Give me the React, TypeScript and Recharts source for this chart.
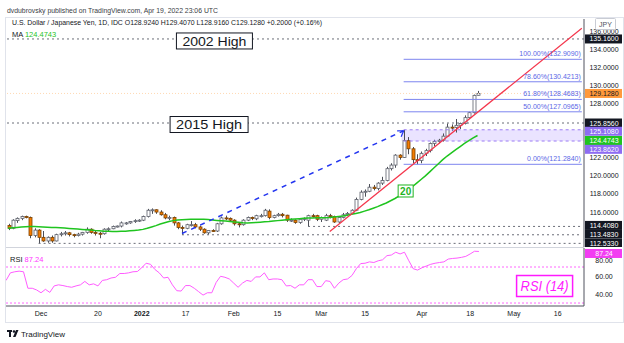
import React from "react";
import {
  ComposedChart,
  Bar,
  Line,
  XAxis,
  YAxis,
  ReferenceLine,
  ReferenceArea,
  ReferenceDot,
} from "recharts";

const FONT = "'Liberation Sans', Arial, sans-serif";

// daily bars (IDC), then empty slots out to the right edge of the chart
const NOV_21 = [19, 22, 23, 24, 25, 26, 29, 30];
const DEC_21 = [1, 2, 3, 6, 7, 8, 9, 10, 13, 14, 15, 16, 17, 20, 21, 22, 23, 24, 27, 28, 29, 30, 31];
const JAN_22 = [3, 4, 5, 6, 7, 10, 11, 12, 13, 14, 17, 18, 19, 20, 21, 24, 25, 26, 27, 28, 31];
const FEB_22 = [1, 2, 3, 4, 7, 8, 9, 10, 11, 14, 15, 16, 17, 18, 21, 22, 23, 24, 25, 28];
const MAR_22 = [1, 2, 3, 4, 7, 8, 9, 10, 11, 14, 15, 16, 17, 18, 21, 22, 23, 24, 25, 28, 29, 30, 31];
const APR_22 = [1, 4, 5, 6, 7, 8, 11, 12, 13, 14, 15, 18, 19, 20, 21, 22, 25, 26, 27, 28, 29];
const MAY_22 = [2, 3, 4, 5, 6, 9, 10, 11, 12, 13, 16, 17, 18, 19, 20, 23, 24];

const pad = (d: number) => (d < 10 ? "0" + d : "" + d);
const DATES = [
  ...NOV_21.map((d) => `2021-11-${pad(d)}`),
  ...DEC_21.map((d) => `2021-12-${pad(d)}`),
  ...JAN_22.map((d) => `2022-01-${pad(d)}`),
  ...FEB_22.map((d) => `2022-02-${pad(d)}`),
  ...MAR_22.map((d) => `2022-03-${pad(d)}`),
  ...APR_22.map((d) => `2022-04-${pad(d)}`),
  ...MAY_22.map((d) => `2022-05-${pad(d)}`),
];

const TIME_TICKS: Record<string, string> = {
  "2021-12-01": "Dec",
  "2021-12-20": "20",
  "2022-01-03": "2022",
  "2022-01-17": "17",
  "2022-02-01": "Feb",
  "2022-02-15": "15",
  "2022-03-01": "Mar",
  "2022-03-15": "15",
  "2022-04-01": "Apr",
  "2022-04-18": "18",
  "2022-05-02": "May",
  "2022-05-16": "16",
};

// OHLC, Nov 19 2021 .. Apr 20 2022
const OPEN = [
  114.5, 114.2, 115.05, 115.3, 115.5, 115.4, 113.4, 114.0, 113.2, 112.8,
  113.2, 112.8, 113.5, 113.6, 113.7, 113.5, 113.4, 113.55, 113.75, 114.1,
  113.75, 113.65, 113.6, 114.1, 114.15, 114.4, 114.45, 114.8, 114.8, 114.95,
  115.05, 115.1, 115.5, 116.2, 116.25, 116.0, 115.7, 115.35, 115.4, 114.8,
  114.3, 114.2, 114.6, 114.6, 114.35, 114.1, 113.7, 113.95, 113.9, 114.7,
  115.35, 115.3, 115.1, 114.7, 114.6, 115.1, 115.4, 115.25, 115.6, 115.6,
  116.1, 115.4, 115.6, 115.75, 115.65, 115.1, 115.1, 114.85, 115.2, 115.1,
  115.6, 115.6, 115.2, 115.1, 115.6, 115.5, 114.9, 115.4, 115.7, 115.85,
  116.2, 117.4, 118.2, 118.3, 118.75, 118.6, 119.2, 119.5, 120.8, 121.2,
  122.3, 122.05, 123.9, 123.0, 121.8, 121.7, 122.5, 122.8, 123.6, 123.8,
  123.95, 124.4, 125.4, 125.35, 125.6, 125.8, 126.45, 127.0, 128.924,
];
const HIGH = [
  114.7, 115.2, 115.4, 115.6, 115.6, 115.5, 114.2, 114.1, 113.9, 113.3,
  113.4, 113.6, 113.8, 113.9, 113.8, 113.6, 113.7, 113.8, 114.3, 114.2,
  113.9, 113.8, 114.2, 114.3, 114.5, 114.5, 114.95, 114.9, 115.0, 115.2,
  115.2, 115.6, 116.35, 116.4, 116.3, 116.2, 115.9, 115.6, 115.5, 114.9,
  114.5, 114.7, 115.0, 114.8, 114.5, 114.2, 114.0, 114.1, 114.8, 115.5,
  115.6, 115.4, 115.2, 114.8, 115.2, 115.5, 115.5, 115.7, 115.8, 116.35,
  116.3, 115.7, 115.9, 115.9, 115.7, 115.3, 115.2, 115.3, 115.4, 115.7,
  115.8, 115.7, 115.5, 115.8, 115.8, 115.6, 115.5, 115.9, 116.0, 116.3,
  117.6, 118.4, 118.5, 119.1, 119.0, 119.3, 119.9, 121.0, 121.4, 122.4,
  122.4, 125.09, 124.3, 123.2, 122.4, 122.7, 123.0, 123.7, 124.0, 124.1,
  124.7, 125.8, 125.7, 126.3, 125.9, 126.7, 127.1, 129.0, 129.407,
];
const LOW = [
  114.0, 114.1, 114.8, 115.1, 115.3, 113.1, 113.2, 112.533, 112.7, 112.6,
  112.6, 112.75, 113.3, 113.4, 113.3, 113.2, 113.3, 113.4, 113.6, 113.6,
  113.4, 113.1, 113.5, 113.9, 114.1, 114.3, 114.3, 114.6, 114.7, 114.8,
  114.9, 115.0, 115.4, 115.8, 115.8, 115.6, 115.2, 115.1, 114.5, 114.1,
  113.483, 114.1, 114.4, 114.2, 113.9, 113.6, 113.5, 113.8, 113.8, 114.6,
  115.1, 114.9, 114.5, 114.3, 114.5, 115.0, 115.1, 115.1, 115.4, 115.5,
  115.2, 115.3, 115.5, 115.4, 114.9, 114.9, 114.7, 114.7, 115.0, 114.408,
  115.4, 115.0, 114.9, 115.0, 115.3, 114.8, 114.8, 115.3, 115.6, 115.8,
  116.1, 117.3, 117.7, 118.2, 118.4, 118.4, 119.0, 119.4, 120.6, 120.9,
  121.8, 122.0, 122.4, 121.4, 121.284, 121.4, 122.2, 122.6, 123.3, 123.6,
  123.8, 124.3, 125.0, 124.8, 125.2, 125.7, 126.3, 126.9, 128.916,
];
const CLOSE = [
  114.2, 115.1, 115.3, 115.5, 115.45, 113.4, 114.0, 113.2, 112.8, 113.2,
  112.8, 113.5, 113.6, 113.7, 113.5, 113.4, 113.55, 113.75, 114.1, 113.75,
  113.65, 113.6, 114.1, 114.15, 114.4, 114.45, 114.8, 114.8, 114.95, 115.05,
  115.1, 115.5, 116.2, 116.25, 116.0, 115.7, 115.35, 115.4, 114.8, 114.3,
  114.2, 114.6, 114.6, 114.35, 114.1, 113.7, 113.95, 113.9, 114.7, 115.35,
  115.3, 115.1, 114.7, 114.6, 115.1, 115.4, 115.3, 115.6, 115.6, 116.2,
  115.4, 115.6, 115.75, 115.6, 115.1, 115.1, 114.85, 115.2, 115.3, 115.6,
  115.55, 115.2, 115.4, 115.6, 115.5, 114.9, 115.4, 115.7, 115.85, 116.2,
  117.4, 118.2, 118.3, 118.75, 118.6, 119.2, 119.5, 120.8, 121.2, 122.3,
  122.05, 123.9, 123.0, 121.8, 121.7, 122.5, 122.8, 123.6, 123.8, 123.95,
  124.4, 125.4, 125.35, 125.6, 125.8, 126.45, 127.0, 128.92, 129.128,
];

// MA (20) as drawn in green
const MA20 = [
  114.2, 114.25, 114.3, 114.35, 114.38, 114.4, 114.4, 114.38, 114.35, 114.33,
  114.3, 114.28, 114.25, 114.22, 114.18, 114.15, 114.12, 114.08, 114.05, 114.0,
  113.95, 113.92, 113.88, 113.86, 113.85, 113.85, 113.86, 113.88, 113.92, 113.96,
  114.0, 114.08, 114.2, 114.35, 114.5, 114.68, 114.82, 114.95, 115.05, 115.12,
  115.15, 115.18, 115.2, 115.21, 115.21, 115.2, 115.17, 115.12, 115.07, 115.03,
  115.0, 114.96, 114.91, 114.86, 114.82, 114.8, 114.82, 114.85, 114.88, 114.92,
  114.95, 115.0, 115.05, 115.1, 115.15, 115.2, 115.24, 115.27, 115.3, 115.33,
  115.35, 115.36, 115.37, 115.38, 115.4, 115.45, 115.5, 115.56, 115.65, 115.75,
  115.85, 115.95, 116.1, 116.25, 116.42, 116.6, 116.8, 117.0, 117.25, 117.5,
  117.8, 118.1, 118.45, 118.8, 119.2, 119.6, 120.0, 120.45, 120.9, 121.35,
  121.8, 122.2, 122.55, 122.9, 123.25, 123.6, 123.9, 124.2, 124.4743,
];

// RSI (14)
const RSI14 = [
  55, 63.5, 64.7, 65.4, 64.7, 46.4, 46.4, 44.5, 41.4, 45.2,
  41.8, 49, 50.2, 49.4, 48.3, 47.5, 49, 50.2, 54, 50.2,
  51.3, 49, 55.1, 55.9, 57.8, 58.6, 62.8, 62.8, 63.5, 64.7,
  65, 69.2, 74.2, 73, 67.3, 63.5, 57.8, 58.6, 50.2, 43.7,
  43.3, 49.4, 49.4, 46.4, 42.6, 38.8, 41.4, 41.4, 52.9, 59.7,
  58.6, 56.7, 52.1, 47.5, 52.1, 55.1, 54, 59, 59, 63.5,
  55.9, 56.7, 56.7, 55.9, 49, 49.4, 46.4, 50.2, 50.2, 55.9,
  55.9, 48.3, 48.3, 54.8, 54, 46.4, 52.1, 55.9, 56.7, 60.5,
  68.1, 73.8, 74.2, 75.7, 75, 76.9, 78, 82.6, 83.3, 86.4,
  84.5, 86.4, 76.9, 68.1, 66.6, 69.2, 71.1, 73, 74.2, 75,
  75.7, 78.8, 79.5, 79.9, 80.7, 81.8, 84.5, 87.5, 87.24,
];

// levels and drawings
const HIGH_2002 = 135.16;
const HIGH_2015 = 125.856;
const LAST_PRICE = 129.128;
const SUPPORTS = [
  { value: 114.408, from: "2022-02-24" },
  { value: 113.483, from: "2022-01-14" },
  { value: 112.533, from: "2021-11-30" },
];
const FIB_LEVELS = [
  { pct: "100.00%", value: 132.909 },
  { pct: "78.60%", value: 130.4213 },
  { pct: "61.80%", value: 128.4683 },
  { pct: "50.00%", value: 127.0965 },
  { pct: "0.00%", value: 121.284 },
];
const FIB_ZONE = [123.862, 125.108];
const FIB_FROM = "2022-03-28";
const RED_TREND = [
  { x: "2022-03-03", y: 113.85 },
  { x: "2022-05-24", y: 136.35 },
];
const BLUE_TREND = [
  { x: "2022-01-14", y: 113.62 },
  { x: "2022-03-28", y: 125.0 },
];
const PRICE_TICKS = [136, 134, 132, 130, 128, 122, 120, 118, 116];
const RSI_TICKS = [80, 60, 40];
const LAST_DATE = DATES[DATES.length - 1];
const MA_LAST = MA20[MA20.length - 1];
const RSI_LAST = RSI14[RSI14.length - 1];

const BADGES = [
  { value: HIGH_2002, bg: "#131722", fg: "#ffffff", shift: 0 },
  { value: LAST_PRICE, bg: "#ff9a3c", fg: "#131722", shift: 0 },
  { value: HIGH_2015, bg: "#131722", fg: "#ffffff", shift: 0 },
  { value: FIB_ZONE[1], bg: "#8d6cf2", fg: "#ffffff", shift: 1.5 },
  { value: MA_LAST, bg: "#1fc41f", fg: "#ffffff", shift: 5 },
  { value: FIB_ZONE[0], bg: "#8d6cf2", fg: "#ffffff", shift: 8.3 },
  { value: SUPPORTS[0].value, bg: "#131722", fg: "#ffffff", shift: -1 },
  { value: SUPPORTS[1].value, bg: "#131722", fg: "#ffffff", shift: -0.6 },
  { value: SUPPORTS[2].value, bg: "#131722", fg: "#ffffff", shift: 0 },
];

const rows = DATES.map((date, i) =>
  i < CLOSE.length
    ? {
        date,
        range: [LOW[i], HIGH[i]],
        open: OPEN[i],
        high: HIGH[i],
        low: LOW[i],
        close: CLOSE[i],
        ma: MA20[i],
        rsi: RSI14[i],
      }
    : { date }
);

function Candle(props: any) {
  const { x, y, width, height, payload } = props;
  if (!payload || payload.close == null || x == null) return null;
  const top = Math.min(y, y + height);
  const h = Math.abs(height);
  const { open, close, high, low } = payload;
  const span = high - low || 1;
  const at = (v: number) => top + ((high - v) / span) * h;
  const cx = Math.round(x + width / 2) + 0.5;
  const up = close >= open;
  const b0 = at(Math.max(open, close));
  const b1 = at(Math.min(open, close));
  return (
    <g>
      <line x1={cx} x2={cx} y1={top} y2={top + h} stroke="#4c4f57" strokeWidth={1} />
      <rect
        x={cx - 1.5}
        y={b0}
        width={3}
        height={Math.max(b1 - b0, 1)}
        fill={up ? "#ffffff" : "#f57c00"}
        stroke={up ? "#5d606b" : "#7a4200"}
        strokeWidth={0.8}
      />
    </g>
  );
}

function PriceTick(props: any) {
  const { x, y, payload } = props;
  const v = payload.value;
  const badge = BADGES.find((b) => b.value === v);
  if (!badge) {
    return (
      <text x={x + 20} y={y + 2.5} textAnchor="middle" fontSize={7} fontFamily={FONT} fill="#131722">
        {v.toFixed(4)}
      </text>
    );
  }
  const cy = y + badge.shift;
  return (
    <g>
      <rect x={x + 1} y={cy - 4.5} width={37} height={9} fill={badge.bg} />
      <text x={x + 20} y={cy + 2.5} textAnchor="middle" fontSize={7} fontFamily={FONT} fill={badge.fg}>
        {v.toFixed(4)}
      </text>
    </g>
  );
}

function RsiTick(props: any) {
  const { x, y, payload } = props;
  const v = payload.value;
  if (v === RSI_LAST) {
    return (
      <g>
        <rect x={x + 1} y={y + 2 - 4.5} width={37} height={9} fill="#f23df2" />
        <text x={x + 20} y={y + 4.5} textAnchor="middle" fontSize={7} fontFamily={FONT} fill="#ffffff">
          {v.toFixed(2)}
        </text>
      </g>
    );
  }
  // the 80 label sits just under the RSI badge, as on the original
  const dy = v === 80 ? 3 : 0;
  return (
    <text x={x + 20} y={y + 2.5 + dy} textAnchor="middle" fontSize={7} fontFamily={FONT} fill="#131722">
      {v.toFixed(2)}
    </text>
  );
}

function TimeTick(props: any) {
  const { x, y, payload } = props;
  const label = TIME_TICKS[payload.value];
  if (!label) return null;
  return (
    <text
      x={x}
      y={y + 9.5}
      textAnchor="middle"
      fontSize={7}
      fontFamily={FONT}
      fontWeight={label === "2022" ? 700 : 400}
      fill="#131722"
    >
      {label}
    </text>
  );
}

const boxedText =
  (
    text: string,
    o: { w: number; h: number; dx: number; dy: number; color: string; size: number; tw?: number; italic?: boolean; bold?: boolean; border?: number }
  ) =>
  (props: any) => {
    const cx = props.cx + o.dx;
    const cy = props.cy + o.dy;
    return (
      <g>
        <rect
          x={cx - o.w / 2}
          y={cy - o.h / 2}
          width={o.w}
          height={o.h}
          fill="#ffffff"
          stroke={o.color}
          strokeWidth={o.border ?? 1}
        />
        <text
          x={cx}
          y={cy + o.size * 0.36}
          textAnchor="middle"
          fontSize={o.size}
          fontFamily={FONT}
          fontStyle={o.italic ? "italic" : "normal"}
          fontWeight={o.bold ? 700 : 400}
          fill={o.color}
          textLength={o.tw}
          lengthAdjust="spacingAndGlyphs"
        >
          {text}
        </text>
      </g>
    );
  };

const fibText = (text: string) => (props: any) =>
  (
    <text x={props.cx - 1} y={props.cy - 3} textAnchor="end" fontSize={7} fontFamily={FONT} fill="#5b67e6">
      {text}
    </text>
  );

const arrowHead = (props: any) => {
  const { cx, cy } = props;
  return (
    <g stroke="#2436f0" strokeWidth={1.2} fill="none">
      <line x1={cx} y1={cy} x2={cx - 6.5} y2={cy + 0.2} />
      <line x1={cx} y1={cy} x2={cx - 2.5} y2={cy + 6} />
    </g>
  );
};

export default function App() {
  return (
    <div style={{ position: "relative", width: 624, height: 343, background: "#ffffff", overflow: "hidden" }}>
      <style>{`body{margin:0}`}</style>

      <div style={{ position: "absolute", left: 0, top: 0 }}>
        <ComposedChart width={624} height={247} data={rows} margin={{ top: 19, right: 0, bottom: 0, left: 6 }}>
          <XAxis dataKey="date" hide />
          <YAxis
            orientation="right"
            width={40}
            type="number"
            domain={[112.13, 137.37]}
            allowDataOverflow
            ticks={[...PRICE_TICKS, ...BADGES.map((b) => b.value)]}
            interval={0}
            tickLine={false}
            tickSize={0}
            tickMargin={0}
            axisLine={{ stroke: "#50535e" }}
            tick={PriceTick}
          />
          <ReferenceArea
            x1={FIB_FROM}
            x2={LAST_DATE}
            y1={FIB_ZONE[0]}
            y2={FIB_ZONE[1]}
            fill="#9575ff"
            fillOpacity={0.2}
            stroke="none"
          />
          {FIB_ZONE.map((v) => (
            <ReferenceLine
              key={"z" + v}
              segment={[
                { x: FIB_FROM, y: v },
                { x: LAST_DATE, y: v },
              ]}
              stroke="#9c7cf5"
              strokeDasharray="3 3"
            />
          ))}
          <ReferenceLine y={LAST_PRICE} stroke="#ffd9b3" strokeDasharray="1 2" />
          <ReferenceLine y={HIGH_2002} stroke="#6b6e78" strokeDasharray="2 3" />
          <ReferenceLine y={HIGH_2015} stroke="#6b6e78" strokeDasharray="2 3" />
          {SUPPORTS.map((s) => (
            <ReferenceLine
              key={"s" + s.value}
              segment={[
                { x: s.from, y: s.value },
                { x: LAST_DATE, y: s.value },
              ]}
              stroke="#6b6e78"
              strokeDasharray="2 3"
            />
          ))}
          {FIB_LEVELS.map((f) => (
            <ReferenceLine
              key={"f" + f.value}
              segment={[
                { x: FIB_FROM, y: f.value },
                { x: LAST_DATE, y: f.value },
              ]}
              stroke="#7d85ef"
              strokeWidth={1}
            />
          ))}
          <Line
            dataKey="ma"
            stroke="#1fc41f"
            strokeWidth={1.5}
            dot={false}
            activeDot={false}
            isAnimationActive={false}
          />
          <Bar dataKey="range" barSize={3} shape={Candle} isAnimationActive={false} />
          <ReferenceLine segment={RED_TREND} stroke="#f4364c" strokeWidth={1.2} />
          <ReferenceLine segment={BLUE_TREND} stroke="#2436f0" strokeWidth={1.5} strokeDasharray="5 5" />
          <ReferenceDot x={BLUE_TREND[1].x} y={BLUE_TREND[1].y} r={0} shape={arrowHead} />
          {FIB_LEVELS.map((f) => (
            <ReferenceDot
              key={"ft" + f.value}
              x={LAST_DATE}
              y={f.value}
              r={0}
              shape={fibText(`${f.pct}(${f.value.toFixed(4)})`)}
            />
          ))}
          <ReferenceDot
            x="2022-01-25"
            y={HIGH_2002}
            r={0}
            shape={boxedText("2002 High", { w: 76, h: 16, dx: 2, dy: 2, color: "#131722", size: 13, tw: 64 })}
          />
          <ReferenceDot
            x="2022-01-24"
            y={HIGH_2015}
            r={0}
            shape={boxedText("2015 High", { w: 78, h: 16, dx: 1, dy: 1.5, color: "#131722", size: 13, tw: 66 })}
          />
          <ReferenceDot
            x="2022-03-28"
            y={118.33}
            r={0}
            shape={boxedText("20", { w: 15, h: 12, dx: 2, dy: 0, color: "#1fb41f", size: 10, bold: true })}
          />
        </ComposedChart>
      </div>

      <div style={{ position: "absolute", left: 0, top: 247 }}>
        <ComposedChart width={624} height={75} data={rows} margin={{ top: 1, right: 0, bottom: 0, left: 6 }}>
          <XAxis
            dataKey="date"
            height={16}
            interval={0}
            tickLine={false}
            tickSize={0}
            tickMargin={0}
            axisLine={{ stroke: "#50535e" }}
            tick={TimeTick}
          />
          <YAxis
            orientation="right"
            width={40}
            type="number"
            domain={[26.7, 91.1]}
            allowDataOverflow
            ticks={[...RSI_TICKS, RSI_LAST]}
            interval={0}
            tickLine={false}
            tickSize={0}
            tickMargin={0}
            axisLine={{ stroke: "#50535e" }}
            tick={RsiTick}
          />
          <ReferenceLine y={70} stroke="#ff66ff" strokeDasharray="2 2" />
          <ReferenceLine y={30} stroke="#ff66ff" strokeDasharray="2 2" />
          <Line
            dataKey="rsi"
            stroke="#ff5cff"
            strokeWidth={1}
            dot={false}
            activeDot={false}
            isAnimationActive={false}
          />
          <ReferenceDot
            x="2022-05-11"
            y={48.9}
            r={0}
            shape={boxedText("RSI (14)", { w: 56, h: 21, dx: 0, dy: 0, color: "#ff1aff", size: 14, tw: 48, italic: true, border: 1.5 })}
          />
        </ComposedChart>
      </div>

      <svg width={624} height={343} style={{ position: "absolute", left: 0, top: 0, pointerEvents: "none" }}>
        <rect x={5.5} y={17.5} width={618} height={305} fill="none" stroke="#e0e3eb" />
        <line x1={6} x2={584} y1={247.5} y2={247.5} stroke="#d1d4dc" />
        <text x={7} y={12.5} fontSize={7.5} fontFamily={FONT} fill="#3a3d45" textLength={211} lengthAdjust="spacingAndGlyphs">
          dvdubrovsky published on TradingView.com, Apr 19, 2022 23:06 UTC
        </text>
        <text x={12} y={25} fontSize={7.5} fontFamily={FONT} fill="#131722" textLength={310} lengthAdjust="spacingAndGlyphs">
          U.S. Dollar / Japanese Yen, 1D, IDC  O128.9240 H129.4070 L128.9160 C129.1280 +0.2000 (+0.16%)
        </text>
        <text x={12} y={36.5} fontSize={7.5} fontFamily={FONT} fill="#131722">
          MA <tspan fill="#1fc41f">{MA_LAST.toFixed(4)}</tspan>
        </text>
        <text x={10} y={262} fontSize={7.5} fontFamily={FONT} fill="#131722">
          RSI <tspan fill="#ff33ff">{RSI_LAST.toFixed(2)}</tspan>
        </text>
        <rect x={595.5} y={18.5} width={20} height={11} fill="#ffffff" stroke="#c9ccd4" rx={1} />
        <text x={605.5} y={26.5} textAnchor="middle" fontSize={7} fontFamily={FONT} fill="#50535e">
          JPY
        </text>
        <g fill="#131722">
          <rect x={7} y={330} width={5} height={2} />
          <rect x={9} y={330} width={2} height={7} />
          <circle cx={14} cy={331.5} r={1.3} />
          <polygon points="16,330 18.5,330 15.5,337 13,337" />
        </g>
        <text x={21} y={336.5} fontSize={8} fontFamily={FONT} fill="#131722">
          TradingView
        </text>
      </svg>
    </div>
  );
}
